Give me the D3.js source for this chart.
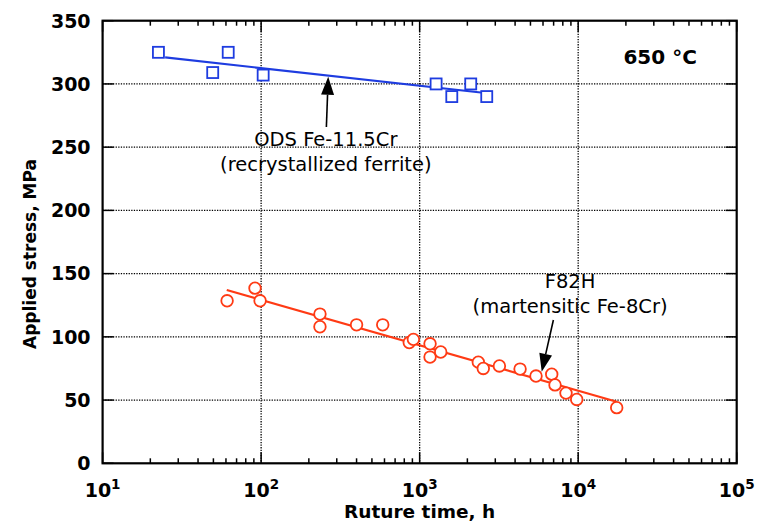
<!DOCTYPE html>
<html>
<head>
<meta charset="utf-8">
<script src="https://cdn.jsdelivr.net/npm/d3@7"></script>
<style>
  body { margin: 0; background: #fff; }
  text { font-family: "DejaVu Sans", Verdana, sans-serif; }
</style>
</head>
<body>
<div id="chart"></div>
<script>
// ODS Fe-11.5Cr (recrystallized ferrite)
const odsTime = [22.5, 49.5, 62, 103, 1270, 1595, 2100, 2650];
const odsStress = [325, 309, 325, 307, 300, 290, 300, 290];
const odsFitTime = [24.8, 2510];
const odsFitStress = [321, 293];

// F82H (martensitic Fe-8Cr)
const f82Time = [61, 91.5, 98.5, 235, 235, 400, 585, 860, 913, 1163, 1163, 1358,
  2345, 2520, 3185, 4300, 5420, 6810, 7145, 8380, 9790, 17500];
const f82Stress = [128.5, 138.5, 128.5, 118, 108, 109.5, 109.5, 95.5, 98, 94.5, 84, 88,
  80, 75, 77, 74.5, 69, 70.5, 62, 55.5, 50.5, 44];
const f82FitTime = [60.7, 17500];
const f82FitStress = [137, 48.7];

const yTicks = [0, 50, 100, 150, 200, 250, 300, 350];
const xTicks = [10, 100, 1000, 10000, 100000];

const W = 761, H = 522;
const pLeft = 102.6, pRight = 736.7, pTop = 20.7, pBottom = 463.3;

const svg = d3.select("#chart").append("svg")
  .attr("width", W).attr("height", H);

const x = d3.scaleLog().domain([10, 1e5]).range([pLeft, pRight]);
const y = d3.scaleLinear().domain([0, 350]).range([pBottom, pTop]);

const blue = "#1e3ce0";
const red = "#ff3a14";

// grid
svg.append("g").selectAll("line")
  .data(yTicks.filter((d) => d > 0 && d < 350))
  .enter().append("line")
  .attr("x1", pLeft).attr("x2", pRight)
  .attr("y1", (d) => y(d)).attr("y2", (d) => y(d))
  .attr("stroke", "#000").attr("stroke-width", 1.3)
  .attr("stroke-dasharray", "1.3,1.3");

svg.append("g").selectAll("line")
  .data(xTicks.slice(1, -1))
  .enter().append("line")
  .attr("x1", (d) => x(d)).attr("x2", (d) => x(d))
  .attr("y1", pTop).attr("y2", pBottom)
  .attr("stroke", "#000").attr("stroke-width", 1.3)
  .attr("stroke-dasharray", "1.3,1.3");

// ticks: minor on top and bottom, major on all sides
const minor = [];
xTicks.slice(0, -1).forEach((d) => {
  for (let k = 2; k <= 9; k++) minor.push(d * k);
});
const tk = svg.append("g").attr("stroke", "#000").attr("stroke-width", 1.5);
minor.forEach((d) => {
  tk.append("line").attr("x1", x(d)).attr("x2", x(d)).attr("y1", pBottom).attr("y2", pBottom - 5);
  tk.append("line").attr("x1", x(d)).attr("x2", x(d)).attr("y1", pTop).attr("y2", pTop + 5);
});
xTicks.forEach((d) => {
  tk.append("line").attr("x1", x(d)).attr("x2", x(d)).attr("y1", pBottom).attr("y2", pBottom - 11);
  tk.append("line").attr("x1", x(d)).attr("x2", x(d)).attr("y1", pTop).attr("y2", pTop + 11);
});
yTicks.forEach((d) => {
  tk.append("line").attr("x1", pLeft).attr("x2", pLeft + 11).attr("y1", y(d)).attr("y2", y(d));
  tk.append("line").attr("x1", pRight).attr("x2", pRight - 11).attr("y1", y(d)).attr("y2", y(d));
});

// frame
svg.append("rect")
  .attr("x", pLeft).attr("y", pTop)
  .attr("width", pRight - pLeft).attr("height", pBottom - pTop)
  .attr("fill", "none").attr("stroke", "#000").attr("stroke-width", 2.2);

// fit lines
const line = d3.line().x((d) => x(d[0])).y((d) => y(d[1]));
svg.append("path")
  .datum(d3.zip(odsFitTime, odsFitStress))
  .attr("d", line).attr("fill", "none")
  .attr("stroke", blue).attr("stroke-width", 2.2);
svg.append("path")
  .datum(d3.zip(f82FitTime, f82FitStress))
  .attr("d", line).attr("fill", "none")
  .attr("stroke", red).attr("stroke-width", 2.2);

// markers
svg.append("g").selectAll("rect")
  .data(d3.zip(odsTime, odsStress))
  .enter().append("rect")
  .attr("x", (d) => x(d[0]) - 5.5).attr("y", (d) => y(d[1]) - 5.5)
  .attr("width", 11).attr("height", 11)
  .attr("fill", "#fff").attr("stroke", blue).attr("stroke-width", 1.8);

svg.append("g").selectAll("circle")
  .data(d3.zip(f82Time, f82Stress))
  .enter().append("circle")
  .attr("cx", (d) => x(d[0])).attr("cy", (d) => y(d[1]))
  .attr("r", 5.8)
  .attr("fill", "#fff").attr("stroke", red).attr("stroke-width", 1.8);

// y tick labels
svg.append("g").selectAll("text")
  .data(yTicks)
  .enter().append("text")
  .attr("x", pLeft - 12).attr("y", (d) => y(d))
  .attr("dy", "0.36em")
  .attr("text-anchor", "end")
  .style("font-size", "19px").style("font-weight", "bold")
  .text((d) => d);

// x tick labels
const xl = svg.append("g").selectAll("text")
  .data(xTicks)
  .enter().append("text")
  .attr("x", (d) => x(d)).attr("y", pBottom + 34)
  .attr("text-anchor", "middle")
  .style("font-size", "19px").style("font-weight", "bold");
xl.append("tspan").text("10");
xl.append("tspan")
  .attr("dy", "-8").style("font-size", "13.5px")
  .text((d) => Math.round(Math.log10(d)));

// axis titles
svg.append("text")
  .attr("x", (pLeft + pRight) / 2).attr("y", 518)
  .attr("text-anchor", "middle")
  .style("font-size", "18.5px").style("font-weight", "bold")
  .text("Ruture time, h");

svg.append("text")
  .attr("transform", `translate(36,${(pTop + pBottom) / 2 + 12}) rotate(-90)`)
  .attr("text-anchor", "middle")
  .style("font-size", "17px").style("font-weight", "bold")
  .text("Applied stress, MPa");

// annotations
svg.append("text")
  .attr("x", x(32900)).attr("y", y(315.7))
  .attr("text-anchor", "middle")
  .style("font-size", "20px").style("font-weight", "bold")
  .text("650 °C");

const arrow = (t0, s0, t1, s1) => {
  const x0 = x(t0), y0 = y(s0), x1 = x(t1), y1 = y(s1);
  const a = Math.atan2(y1 - y0, x1 - x0);
  const len = 18, hw = 6.5;
  const bx = x1 - len * Math.cos(a), by = y1 - len * Math.sin(a);
  svg.append("line")
    .attr("x1", x0).attr("y1", y0).attr("x2", bx).attr("y2", by)
    .attr("stroke", "#000").attr("stroke-width", 1.6);
  svg.append("path")
    .attr("d", `M${x1},${y1}L${bx + hw * Math.sin(a)},${by - hw * Math.cos(a)}` +
      `L${bx - hw * Math.sin(a)},${by + hw * Math.cos(a)}Z`)
    .attr("fill", "#000");
};
arrow(258, 266, 265, 305.7);
arrow(6976, 113.3, 5890, 72.4);

const label = (t, s, lines) => {
  const txt = svg.append("text")
    .attr("x", x(t)).attr("y", y(s))
    .attr("text-anchor", "middle")
    .style("font-size", "19.5px");
  lines.forEach((l, i) => {
    txt.append("tspan").attr("x", x(t)).attr("dy", i ? 25 : 0).text(l);
  });
};
label(256, 251, ["ODS Fe-11.5Cr", "(recrystallized ferrite)"]);
label(8890, 138.4, ["F82H", "(martensitic Fe-8Cr)"]);
</script>
</body>
</html>
